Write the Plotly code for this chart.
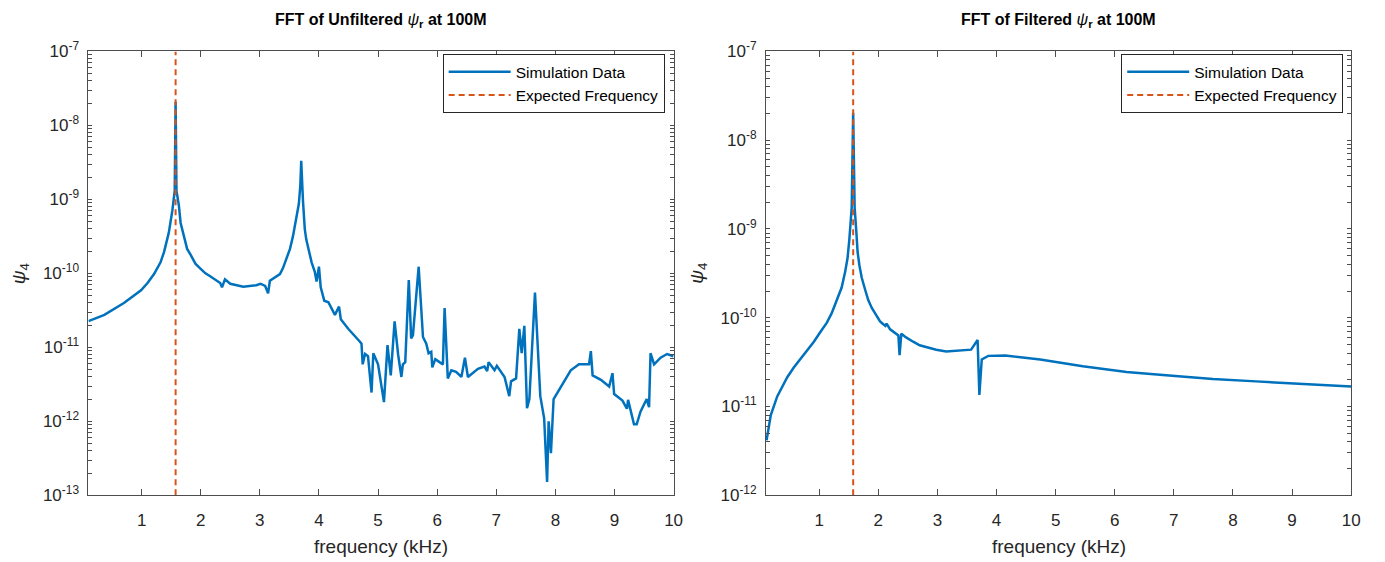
import plotly.graph_objects as go

# ---------------- data ----------------
freq_unf = [0.10, 0.37, 0.70, 0.99, 1.10, 1.21, 1.32, 1.38, 1.46, 1.49, 1.52, 1.56, 1.575, 1.59,
            1.63, 1.66, 1.71, 1.77, 1.83, 1.91, 1.99, 2.08, 2.16, 2.33, 2.36, 2.41, 2.50, 2.72,
            2.94, 3.01, 3.09, 3.14, 3.17, 3.34, 3.39, 3.51, 3.56, 3.62, 3.66, 3.685, 3.70, 3.73,
            3.76, 3.785, 3.876, 3.93, 3.96, 4.00, 4.03, 4.09, 4.16,
            4.27, 4.34, 4.37, 4.495, 4.69, 4.72, 4.74, 4.78, 4.83, 4.89, 4.92, 5.00, 5.10,
            5.16, 5.215, 5.28, 5.34, 5.395, 5.42, 5.46, 5.52, 5.56, 5.59, 5.687, 5.76, 5.816,
            5.855, 5.90, 5.918, 5.968, 6.04, 6.097, 6.126, 6.18, 6.24, 6.32, 6.41, 6.47, 6.52,
            6.69, 6.80, 6.846, 6.87, 6.97, 7.01, 7.14, 7.22, 7.25, 7.335, 7.39, 7.43, 7.475,
            7.52, 7.56, 7.655, 7.745, 7.81, 7.86, 7.886, 7.925, 7.97, 8.09, 8.26, 8.40, 8.57,
            8.60, 8.63, 8.77, 8.91, 8.966, 8.994, 9.135, 9.21, 9.23, 9.275, 9.33, 9.376, 9.44,
            9.545, 9.585, 9.61, 9.67, 9.78, 9.89, 10.0]
psi_unf = [2.26e-11, 2.75e-11, 3.98e-11, 5.89e-11, 7.4e-11, 9.77e-11, 1.41e-10, 1.95e-10,
           3.55e-10, 4.8e-10, 7.08e-10, 1.30e-9, 2.09e-8, 1.30e-9, 8.3e-10, 4.8e-10, 3.24e-10,
           2.14e-10, 1.78e-10, 1.35e-10, 1.17e-10, 1.0e-10, 9.12e-11, 7.41e-11,
           6.46e-11, 8.32e-11, 7.24e-11, 6.61e-11, 6.92e-11, 7.24e-11, 6.76e-11, 5.37e-11,
           7.94e-11, 9.77e-11, 1.17e-10, 2.14e-10, 3.16e-10, 5.75e-10, 8.7e-10, 1.55e-9, 3.31e-9,
           9.55e-10, 4.0e-10, 2.88e-10,
           1.41e-10, 1.05e-10, 7.76e-11, 1.23e-10, 6.46e-11, 4.27e-11, 4.07e-11, 2.75e-11,
           3.55e-11, 2.40e-11, 1.78e-11, 1.20e-11, 1.12e-11, 5.89e-12, 8.13e-12, 7.59e-12,
           2.45e-12, 8.32e-12, 5.89e-12, 1.82e-12, 1.07e-11, 4.17e-12, 2.24e-11, 7.94e-12,
           3.98e-12, 5.89e-12, 6.31e-12, 8.13e-11, 1.32e-11, 1.45e-11, 1.23e-10, 1.38e-11,
           1.12e-11, 8.32e-12, 8.71e-12, 5.37e-12, 6.92e-12, 6.31e-12, 5.89e-12, 3.39e-11,
           3.80e-12, 4.90e-12, 4.68e-12, 3.98e-12, 7.24e-12, 3.98e-12, 5.13e-12, 5.50e-12,
           4.79e-12, 6.31e-12, 4.90e-12, 5.62e-12, 3.98e-12, 2.19e-12, 3.47e-12, 3.80e-12,
           1.78e-11, 8.32e-12, 1.95e-11, 1.51e-12, 2.00e-12, 5.50e-11, 2.19e-12, 1.10e-12,
           1.51e-13, 1.00e-12, 3.72e-13, 2.00e-12, 2.95e-12, 4.90e-12, 5.89e-12, 5.89e-12,
           8.91e-12, 4.17e-12, 3.63e-12, 2.95e-12, 4.47e-12, 2.34e-12, 1.91e-12, 1.48e-12,
           1.95e-12, 1.35e-12, 9.12e-13, 9.12e-13, 1.35e-12, 2.00e-12, 1.55e-12, 8.32e-12,
           5.89e-12, 7.24e-12, 8.13e-12, 7.59e-12]

freq_fil = [0.11, 0.18, 0.29, 0.46, 0.57, 0.68, 0.79, 0.91, 1.02, 1.13, 1.21, 1.30, 1.38, 1.44,
            1.48, 1.51, 1.53, 1.55, 1.575, 1.60, 1.63, 1.65, 1.68, 1.72, 1.78, 1.83, 1.89, 1.97,
            2.03, 2.08, 2.12, 2.14, 2.20, 2.34, 2.36, 2.39, 2.47, 2.59, 2.70, 2.87, 2.98, 3.15,
            3.43, 3.57, 3.68, 3.71, 3.75, 3.86, 4.15, 4.74, 5.46, 6.20, 6.92, 7.66, 8.39, 9.12, 10.0]
psi_fil = [4.17e-12, 7.94e-12, 1.30e-11, 2.14e-11, 2.75e-11, 3.39e-11, 4.17e-11, 5.37e-11,
           6.9e-11, 8.81e-11, 1.12e-10, 1.58e-10, 2.19e-10, 3.31e-10, 4.7e-10, 7.59e-10, 1.07e-9,
           1.74e-9, 2.04e-8, 1.74e-9, 8.9e-10, 5.50e-10, 3.9e-10, 2.82e-10, 2.04e-10, 1.58e-10,
           1.29e-10, 1.05e-10, 9.1e-11, 8.51e-11, 8.1e-11, 8.6e-11, 7.41e-11, 6.31e-11, 3.80e-11,
           6.61e-11, 6.0e-11, 5.37e-11, 4.9e-11, 4.57e-11, 4.37e-11, 4.17e-11, 4.27e-11, 4.37e-11,
           5.62e-11, 1.35e-11, 3.39e-11, 3.72e-11, 3.76e-11, 3.39e-11, 2.85e-11, 2.45e-11,
           2.24e-11, 2.04e-11, 1.92e-11, 1.80e-11, 1.68e-11]

expected_freq = 1.575
titles = ["<b>FFT of Unfiltered </b><i>ψ</i><b><sub>r</sub> at 100M</b>",
          "<b>FFT of Filtered </b><i>ψ</i><b><sub>r</sub> at 100M</b>"]
x_ticks = [1, 2, 3, 4, 5, 6, 7, 8, 9, 10]
y_exp_left = [-13, -12, -11, -10, -9, -8, -7]
y_exp_right = [-12, -11, -10, -9, -8, -7]
minor_digits = [2, 3, 4, 5, 6, 7, 8, 9]

# ---------------- styling ----------------
BLUE = "#0072BD"
ORANGE = "#D95319"
TXT = "#262626"
LINE = "#4d4d4d"
FONT = "Liberation Sans, Arial, sans-serif"
W, H = 1385, 562

fig = go.Figure()

fig.add_trace(go.Scatter(x=freq_unf, y=psi_unf, mode="lines", name="Simulation Data",
                         line=dict(color=BLUE, width=2.5), xaxis="x", yaxis="y", legend="legend"))
fig.add_trace(go.Scatter(x=[expected_freq, expected_freq], y=[10.0**y_exp_left[0], 10.0**y_exp_left[-1]],
                         mode="lines", name="Expected Frequency",
                         line=dict(color=ORANGE, width=2, dash="6px,4px"), xaxis="x", yaxis="y", legend="legend"))
fig.add_trace(go.Scatter(x=freq_fil, y=psi_fil, mode="lines", name="Simulation Data",
                         line=dict(color=BLUE, width=2.5), xaxis="x2", yaxis="y2", legend="legend2"))
fig.add_trace(go.Scatter(x=[expected_freq, expected_freq], y=[10.0**y_exp_right[0], 10.0**y_exp_right[-1]],
                         mode="lines", name="Expected Frequency",
                         line=dict(color=ORANGE, width=2, dash="6px,4px"), xaxis="x2", yaxis="y2", legend="legend2"))

def px_x(p):
    return p / W

def px_y(p):
    return 1 - p / H

ydom = [px_y(503), px_y(41)]

def xaxis_cfg(dom, anchor):
    return dict(domain=dom, range=[0.1, 10], anchor=anchor, tickvals=x_ticks,
                ticktext=[str(t) for t in x_ticks], ticks="inside", ticklen=6, tickwidth=1,
                tickcolor=LINE, showline=True, linecolor=LINE, linewidth=1, mirror="allticks",
                showgrid=False, zeroline=False, ticklabelstandoff=9,
                tickfont=dict(family=FONT, size=17, color=TXT))

def yaxis_cfg(exps, anchor):
    # major decade ticks with labels, minor 2..9 ticks without labels
    vals, texts = [], []
    for e in exps:
        vals.append(10.0**e)
        texts.append("10<sup>%d</sup>" % e)
        if e != exps[-1]:
            for d in minor_digits:
                vals.append(d * 10.0**e)
                texts.append(" ")
    return dict(domain=ydom, type="log", range=[exps[0], exps[-1]], anchor=anchor,
                tickmode="array", tickvals=vals, ticktext=texts,
                ticks="inside", ticklen=4, tickwidth=1, tickcolor=LINE,
                showline=True, linecolor=LINE, linewidth=1, mirror="allticks",
                showgrid=False, zeroline=False, ticklabelstandoff=5,
                tickfont=dict(family=FONT, size=17, color=TXT))

legend_common = dict(bgcolor="white", bordercolor=TXT, borderwidth=1,
                     font=dict(family=FONT, size=15.5, color="black"),
                     xanchor="right", yanchor="top", tracegroupgap=0, itemwidth=62)

fig.update_layout(
    width=W, height=H, margin=dict(l=0, r=0, t=0, b=0),
    paper_bgcolor="white", plot_bgcolor="white",
    xaxis=xaxis_cfg([px_x(89), px_x(678)], "y"),
    yaxis=yaxis_cfg(y_exp_left, "x"),
    xaxis2=xaxis_cfg([px_x(771), px_x(1360)], "y2"),
    yaxis2=yaxis_cfg(y_exp_right, "x2"),
    legend=dict(x=px_x(669), y=px_y(44), **legend_common),
    legend2=dict(x=px_x(1352), y=px_y(44), **legend_common),
    showlegend=True,
)

annos = []
for cx, t in zip([(89 + 678) / 2, (771 + 1360) / 2], titles):
    annos.append(dict(x=px_x(cx), y=px_y(9), xref="paper", yref="paper", text=t,
                      showarrow=False, xanchor="center", yanchor="middle",
                      font=dict(family=FONT, size=16, color="black")))
    annos.append(dict(x=px_x(cx), y=px_y(556), xref="paper", yref="paper", text="frequency (kHz)",
                      showarrow=False, xanchor="center", yanchor="middle",
                      font=dict(family=FONT, size=19, color=TXT)))
for lx in [20, 703]:
    annos.append(dict(x=px_x(lx), y=px_y(272), xref="paper", yref="paper",
                      text="<i>ψ</i><sub>4</sub>", textangle=-90,
                      showarrow=False, xanchor="center", yanchor="middle",
                      font=dict(family=FONT, size=19, color=TXT)))
fig.update_layout(annotations=annos)

fig.write_html("out.html")
